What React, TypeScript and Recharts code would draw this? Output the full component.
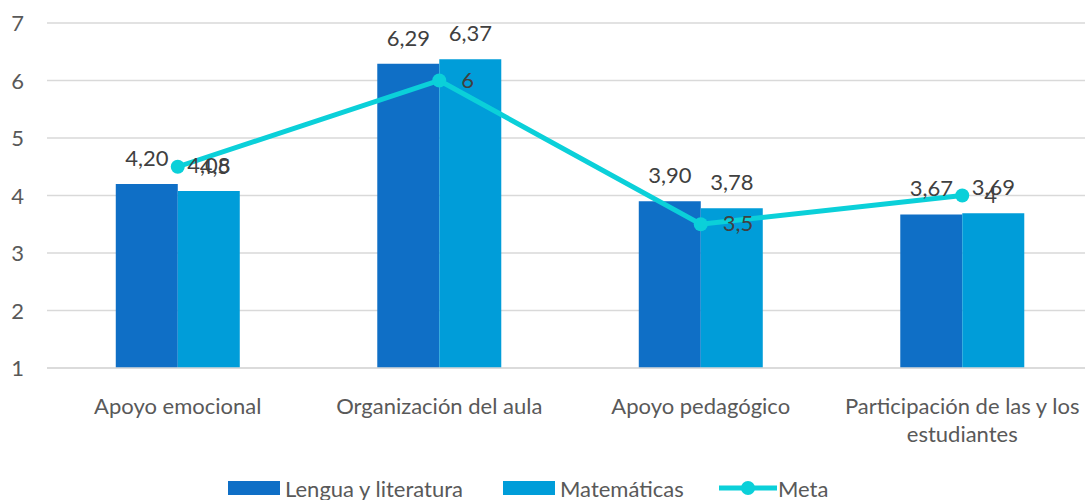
import React from 'react';
import { ComposedChart, Bar, Line, XAxis, YAxis, CartesianGrid, LabelList } from 'recharts';

const categories = ['Apoyo emocional', 'Organización del aula', 'Apoyo pedagógico', 'Participación de las y los estudiantes'];
const lengua = [4.2, 6.29, 3.9, 3.67];
const matematicas = [4.08, 6.37, 3.78, 3.69];
const meta = [4.5, 6, 3.5, 4];
const yTicks = [1, 2, 3, 4, 5, 6, 7];
const seriesNames = ['Lengua y literatura', 'Matemáticas', 'Meta'];

const COLORS = ['#0F6FC6', '#009DD9', '#0BD0D9'];
const FONT = 'Lato, "Open Sans", sans-serif';
const FS = 22;

const data = categories.map((c, i) => ({ name: c, lengua: lengua[i], mat: matematicas[i], meta: meta[i] }));

const fmt2 = (v: number) => v.toFixed(2).replace('.', ',');
const fmtMeta = (v: number) => String(v).replace('.', ',');

const BarLabel = (props: any) => {
  const { x, y, width, value } = props;
  return (
    <text x={x + width / 2} y={y - 18} textAnchor="middle" fill="#404040" fontSize={FS} fontFamily={FONT}>
      {fmt2(value)}
    </text>
  );
};

const MetaLabel = (props: any) => {
  const { x, y, value } = props;
  return (
    <text x={x + 22} y={y + 7} textAnchor="start" fill="#404040" fontSize={FS} fontFamily={FONT}>
      {fmtMeta(value)}
    </text>
  );
};

const wrap = (s: string, max: number) => {
  const words = s.split(' ');
  const lines: string[] = [];
  let cur = '';
  words.forEach((w) => {
    const t = cur ? cur + ' ' + w : w;
    if (t.length > max && cur) {
      lines.push(cur);
      cur = w;
    } else cur = t;
  });
  if (cur) lines.push(cur);
  return lines;
};

const XTick = (props: any) => {
  const { x, y, payload } = props;
  const lines = wrap(payload.value, 28);
  return (
    <g>
      {lines.map((l, i) => (
        <text key={i} x={x} y={y + 38 + i * 28} textAnchor="middle" fill="#595959" fontSize={FS} fontFamily={FONT}>
          {l}
        </text>
      ))}
    </g>
  );
};

const YTick = (props: any) => {
  const { y, payload } = props;
  return (
    <text x={24} y={y + 8} textAnchor="end" fill="#595959" fontSize={FS} fontFamily={FONT}>
      {payload.value}
    </text>
  );
};

const legendPos = [228, 503, 719];

export default function App() {
  return (
    <div style={{ position: 'absolute', left: 0, top: 0, width: 1085, height: 500, overflow: 'hidden', background: '#fff' }}>
      <ComposedChart
        width={1094}
        height={500}
        data={data}
        margin={{ top: 23, right: 1, left: 0, bottom: 0 }}
        barCategoryGap="26.3%"
        barGap={0}
      >
        <CartesianGrid vertical={false} stroke="#D9D9D9" strokeWidth={1.3} />
        <XAxis
          dataKey="name"
          height={132}
          tickLine={false}
          axisLine={{ stroke: '#D9D9D9', strokeWidth: 1.3 }}
          tick={<XTick />}
          interval={0}
        />
        <YAxis
          width={47}
          domain={[1, 7]}
          ticks={yTicks}
          axisLine={false}
          tickLine={false}
          tick={<YTick />}
        />
        <Bar dataKey="lengua" fill={COLORS[0]} isAnimationActive={false}>
          <LabelList dataKey="lengua" content={<BarLabel />} />
        </Bar>
        <Bar dataKey="mat" fill={COLORS[1]} isAnimationActive={false}>
          <LabelList dataKey="mat" content={<BarLabel />} />
        </Bar>
        <Line
          dataKey="meta"
          stroke={COLORS[2]}
          strokeWidth={5}
          dot={{ r: 7, fill: COLORS[2], stroke: 'none' }}
          activeDot={false}
          isAnimationActive={false}
        >
          <LabelList dataKey="meta" content={<MetaLabel />} />
        </Line>
      </ComposedChart>
      {seriesNames.map((n, i) => (
        <div
          key={n}
          style={{ position: 'absolute', left: legendPos[i], top: 476, height: 24, display: 'flex', alignItems: 'center', fontFamily: FONT, fontSize: FS, color: '#595959', whiteSpace: 'nowrap' }}
        >
          {i < 2 ? (
            <div style={{ width: 52, height: 14, background: COLORS[i], marginRight: 5 }} />
          ) : (
            <svg width={58} height={16} style={{ marginRight: 1 }}>
              <line x1={0} y1={8} x2={58} y2={8} stroke={COLORS[2]} strokeWidth={5} />
              <circle cx={29} cy={8} r={7} fill={COLORS[2]} />
            </svg>
          )}
          <span>{n}</span>
        </div>
      ))}
    </div>
  );
}
